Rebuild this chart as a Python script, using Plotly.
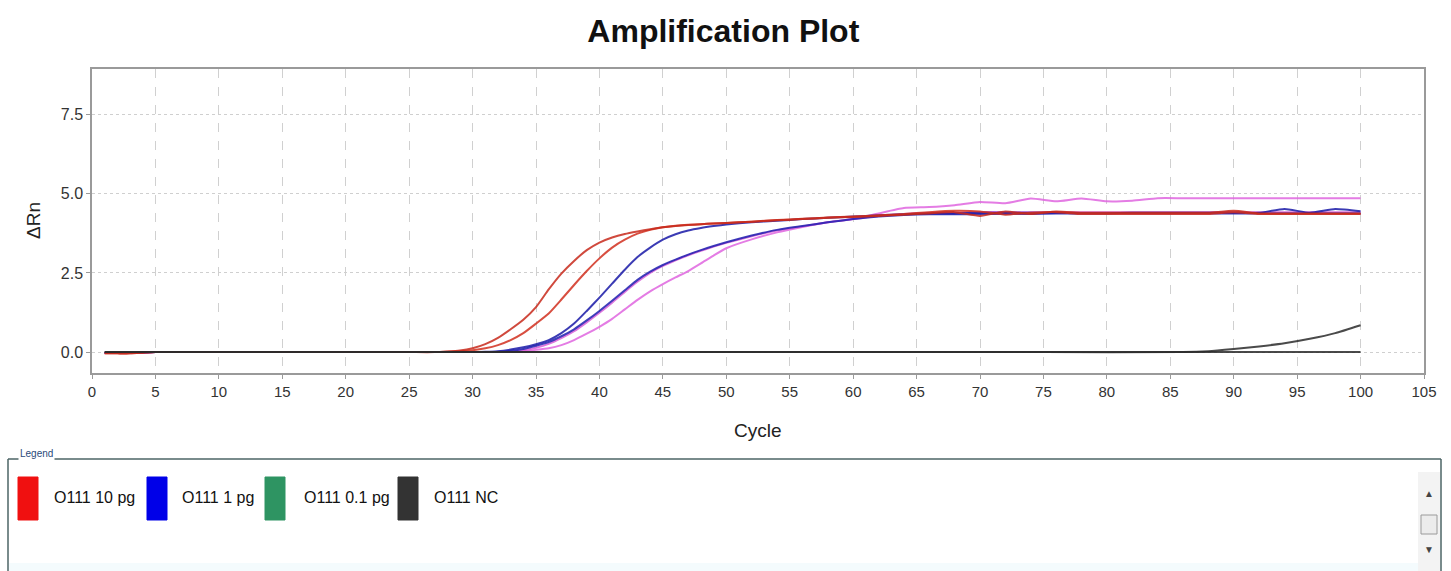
import plotly.graph_objects as go

# ---------------- data ----------------
cycles = [1, 2, 3, 4, 5, 10, 15, 20, 25,
          27, 28, 29, 30, 31, 32, 33, 34, 35, 36, 37, 38, 39, 40, 41, 42, 43, 44, 45, 46, 47, 48, 49, 50,
          52, 54, 56, 58, 60, 62, 64, 66, 68, 70, 72, 74, 76, 78, 80, 82, 84, 86, 88, 90, 92, 94, 96, 98, 100]

red_10pg_a = [-0.04, -0.04, -0.04, -0.02, 0, 0, 0, 0, 0,
              0.0, 0.02, 0.05, 0.12, 0.25, 0.45, 0.72, 1.02, 1.42, 1.98, 2.48, 2.88, 3.22, 3.46, 3.62, 3.73, 3.81, 3.88, 3.94, 3.98, 4.01, 4.04, 4.06, 4.08,
              4.12, 4.16, 4.2, 4.24, 4.27, 4.3, 4.34, 4.38, 4.42, 4.3, 4.44, 4.36, 4.44, 4.4, 4.4, 4.4, 4.4, 4.4, 4.4, 4.46, 4.38, 4.38, 4.38, 4.38, 4.38]
red_10pg_b = [-0.04, -0.04, -0.04, -0.02, 0, 0, 0, 0, 0,
              0.0, 0.01, 0.03, 0.06, 0.12, 0.22, 0.38, 0.6, 0.9, 1.22, 1.66, 2.12, 2.56, 2.96, 3.3, 3.55, 3.74, 3.86, 3.94, 3.99, 4.02, 4.04, 4.06, 4.08,
              4.12, 4.17, 4.21, 4.25, 4.28, 4.32, 4.36, 4.42, 4.46, 4.44, 4.34, 4.4, 4.42, 4.36, 4.36, 4.36, 4.36, 4.36, 4.36, 4.42, 4.36, 4.36, 4.36, 4.36, 4.36]
blue_1pg_a = [-0.03, -0.03, -0.03, -0.01, 0, 0, 0, 0, 0,
              0, 0, 0, 0, 0.01, 0.03, 0.08, 0.15, 0.25, 0.38, 0.6, 0.9, 1.3, 1.72, 2.16, 2.6, 3.0, 3.3, 3.55, 3.72, 3.84, 3.92, 3.98, 4.03,
              4.1, 4.15, 4.2, 4.24, 4.28, 4.32, 4.35, 4.38, 4.38, 4.4, 4.4, 4.4, 4.4, 4.38, 4.38, 4.4, 4.4, 4.4, 4.4, 4.4, 4.4, 4.52, 4.4, 4.52, 4.45]
blue_1pg_b = [-0.03, -0.03, -0.03, -0.01, 0, 0, 0, 0, 0,
              0, 0, 0, 0, 0, 0.01, 0.04, 0.1, 0.2, 0.32, 0.5, 0.72, 1.0, 1.3, 1.62, 1.95, 2.28, 2.54, 2.75, 2.92, 3.08, 3.22, 3.35, 3.47,
              3.68, 3.86, 3.98, 4.1, 4.2, 4.28, 4.33, 4.35, 4.35, 4.36, 4.36, 4.36, 4.38, 4.38, 4.38, 4.38, 4.38, 4.38, 4.38, 4.38, 4.38, 4.38, 4.38, 4.38, 4.38]
pink_01pg_a = [-0.03, -0.03, -0.03, -0.01, 0, 0, 0, 0, 0,
               0, 0, 0, 0, 0, 0, 0.01, 0.03, 0.07, 0.12, 0.22, 0.38, 0.58, 0.8, 1.05, 1.35, 1.65, 1.92, 2.15, 2.36, 2.56, 2.8, 3.05, 3.28,
               3.56, 3.78, 3.95, 4.1, 4.2, 4.38, 4.55, 4.58, 4.64, 4.74, 4.7, 4.85, 4.76, 4.85, 4.76, 4.78, 4.86, 4.86, 4.86, 4.86, 4.86, 4.86, 4.86, 4.86, 4.86]
pink_01pg_b = [-0.03, -0.03, -0.03, -0.01, 0, 0, 0, 0, 0,
               0, 0, 0, 0, 0, 0, 0.02, 0.06, 0.14, 0.26, 0.44, 0.66, 0.94, 1.24, 1.56, 1.9, 2.22, 2.5, 2.72, 2.9, 3.06, 3.2, 3.33, 3.45,
               3.66, 3.84, 3.97, 4.1, 4.2, 4.3, 4.36, 4.4, 4.4, 4.42, 4.42, 4.42, 4.42, 4.42, 4.42, 4.42, 4.42, 4.42, 4.42, 4.42, 4.42, 4.42, 4.42, 4.42, 4.42]

nc_flat_cycles = [1, 100]
nc_flat = [0.0, 0.0]
nc_rise_cycles = [1, 25, 50, 75, 86, 88, 90, 92, 94, 96, 98, 100]
nc_rise = [0.0, 0.0, 0.0, 0.0, 0.0, 0.03, 0.1, 0.18, 0.28, 0.42, 0.6, 0.85]

x_ticks = list(range(0, 106, 5))
y_ticks = [0.0, 2.5, 5.0, 7.5]
y_tick_text = ["0.0", "2.5", "5.0", "7.5"]

legend_labels = ["O111 10 pg", "O111 1 pg", "O111 0.1 pg", "O111 NC"]
legend_colors = ["#f01010", "#0000e8", "#2e9462", "#333333"]

# ---------------- figure ----------------
W, H = 1451, 571
ML, MR, MT, MB = 92, 27, 69, 198
PW, PH = W - ML - MR, H - MT - MB


def px(x):
    return (x - ML) / PW


def py(y):
    return (H - MB - y) / PH


fig = go.Figure()

curves = [
    (cycles, pink_01pg_a, "#e066e0"),
    (cycles, pink_01pg_b, "#d860d8"),
    (cycles, blue_1pg_b, "#1f1fb0"),
    (cycles, blue_1pg_a, "#1a1aa8"),
    (cycles, red_10pg_b, "#d2301f"),
    (cycles, red_10pg_a, "#c82a1c"),
    (nc_rise_cycles, nc_rise, "#2b2b2b"),
    (nc_flat_cycles, nc_flat, "#2b2b2b"),
]
for xs, ys, col in curves:
    fig.add_trace(go.Scatter(x=xs, y=ys, mode="lines",
                             line=dict(color=col, width=2.0, shape="spline", smoothing=0.5),
                             opacity=0.85, showlegend=False, hoverinfo="skip"))

font_main = "Liberation Sans, Arial, sans-serif"

fig.update_layout(
    width=W, height=H,
    margin=dict(l=ML, r=MR, t=MT, b=MB),
    paper_bgcolor="white", plot_bgcolor="white",
    title=dict(text="<b>Amplification Plot</b>", x=0.4985, xref="container", xanchor="center",
               y=1 - 31 / H, yref="container", yanchor="middle",
               font=dict(family=font_main, size=32, color="#111111")),
    showlegend=False,
)
fig.update_xaxes(range=[0, 105], tickvals=x_ticks, showgrid=True, gridcolor="#d0d0d0", griddash="dash",
                 gridwidth=1, zeroline=False, showline=True, mirror=True, linecolor="#9a9a9a", linewidth=1.5,
                 ticks="outside", ticklen=4, tickcolor="#9a9a9a",
                 tickfont=dict(family=font_main, size=15, color="#333333"))
fig.update_yaxes(range=[-0.66, 8.94], tickvals=y_ticks, ticktext=y_tick_text, showgrid=True, gridcolor="#cfcfcf",
                 griddash="dot", gridwidth=1, zeroline=False, showline=True, mirror=True, linecolor="#9a9a9a",
                 linewidth=1.5, ticks="outside", ticklen=4, tickcolor="#9a9a9a",
                 tickfont=dict(family=font_main, size=16, color="#333333"))

annotations = [
    dict(text="ΔRn", x=px(33), y=0.5, xref="paper", yref="paper", textangle=-90, showarrow=False,
         xanchor="center", yanchor="middle", font=dict(family=font_main, size=19, color="#222222")),
    dict(text="Cycle", x=px(758), y=py(430), xref="paper", yref="paper", showarrow=False,
         xanchor="center", yanchor="middle", font=dict(family=font_main, size=19, color="#222222")),
    dict(text="Legend", x=px(18), y=py(453), xref="paper", yref="paper", showarrow=False,
         xanchor="left", yanchor="middle", bgcolor="white",
         font=dict(family=font_main, size=10, color="#2a4a7a")),
    dict(text="▲", x=px(1429), y=py(493), xref="paper", yref="paper", showarrow=False,
         xanchor="center", yanchor="middle", font=dict(size=10, color="#444444")),
    dict(text="▼", x=px(1429), y=py(549), xref="paper", yref="paper", showarrow=False,
         xanchor="center", yanchor="middle", font=dict(size=10, color="#444444")),
]

shapes = [
    # legend frame
    dict(type="rect", x0=px(9), x1=px(1440), y0=py(563), y1=py(575), xref="paper", yref="paper",
         fillcolor="#f4fbfd", line=dict(width=0), layer="below"),
    dict(type="line", x0=px(8), x1=px(1441), y0=py(459), y1=py(459), xref="paper", yref="paper",
         line=dict(color="#4d6466", width=1.5)),
    dict(type="line", x0=px(8), x1=px(8), y0=py(459), y1=py(575), xref="paper", yref="paper",
         line=dict(color="#4d6466", width=1.5)),
    dict(type="line", x0=px(1441), x1=px(1441), y0=py(459), y1=py(575), xref="paper", yref="paper",
         line=dict(color="#4d6466", width=1.5)),
    # scrollbar
    dict(type="rect", x0=px(1418), x1=px(1440), y0=py(472), y1=py(571), xref="paper", yref="paper",
         fillcolor="#f3f3f3", line=dict(width=0)),
    dict(type="rect", x0=px(1421), x1=px(1437), y0=py(515), y1=py(534), xref="paper", yref="paper",
         fillcolor="#ececec", line=dict(color="#9a9a9a", width=1)),
]

sq_x = [18, 147, 265, 398]
txt_x = [52, 180, 302, 432]
for lab, col, sx, tx in zip(legend_labels, legend_colors, sq_x, txt_x):
    shapes.append(dict(type="rect", x0=px(sx), x1=px(sx + 20), y0=py(477), y1=py(520), xref="paper",
                       yref="paper", fillcolor=col, line=dict(color=col, width=1)))
    annotations.append(dict(text=lab, x=px(tx), y=py(497), xref="paper", yref="paper", showarrow=False,
                            xanchor="left", yanchor="middle",
                            font=dict(family=font_main, size=16, color="#111111")))

fig.update_layout(shapes=shapes, annotations=annotations)

fig.write_html("out.html", config={"displayModeBar": False},
               post_script="document.body.style.margin='0';document.body.style.overflow='hidden';")
